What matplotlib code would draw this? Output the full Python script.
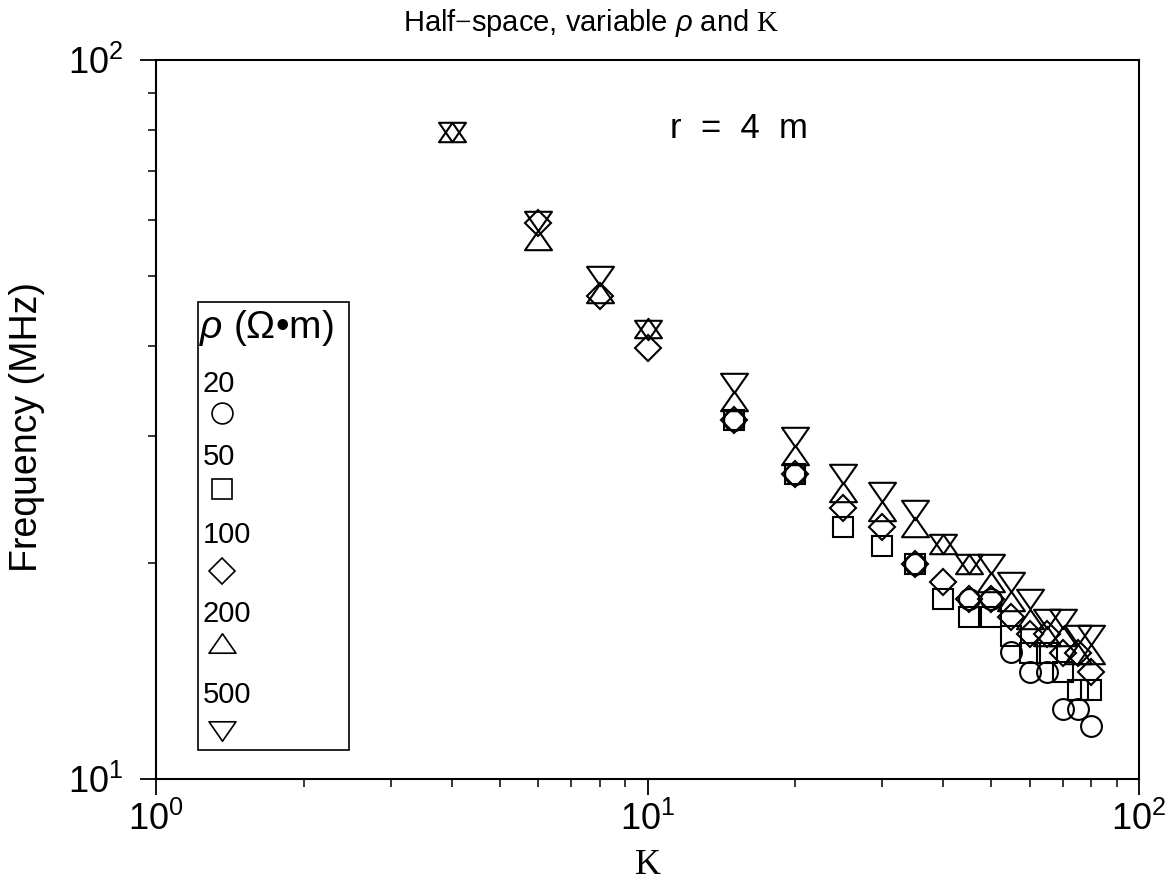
import numpy as np
import matplotlib
matplotlib.use("Agg")
import matplotlib.pyplot as plt
from matplotlib.path import Path
from matplotlib.patches import Rectangle
from matplotlib.ticker import NullFormatter

nan = np.nan

# K values (x axis)
K = [4, 6, 8, 10, 15, 20, 25, 30, 35, 40, 45, 50, 55, 60, 65, 70, 75, 80]

# frequency (MHz) for each resistivity
freq_20 = [nan, nan, nan, nan, 31.6, 26.6, nan, nan, 19.9, nan,
           17.8, 17.8, 15.0, 14.1, 14.1, 12.5, 12.5, 11.85]
freq_50 = [nan, nan, nan, nan, 31.6, 26.6, 22.4, 21.1, 19.9, 17.8,
           16.8, 16.8, 15.8, 14.95, 14.95, 14.1, 13.3, 13.3]
freq_100 = [nan, 59.4, 47.0, 39.8, 31.6, 26.6, 23.8, 22.4, 19.9, 18.8,
            17.8, 17.8, 16.8, 15.9, 15.9, 14.95, 14.95, 14.1]
freq_200 = [79.3, 56.2, 47.4, 42.4, 33.5, 28.2, 25.1, 23.6, 22.4, 21.2,
            19.9, 18.8, 17.7, 16.7, 15.8, 15.8, 14.9, 14.9]
freq_500 = [79.3, 59.8, 50.0, 42.1, 35.5, 29.9, 26.6, 25.1, 23.7, 21.2,
            19.9, 19.9, 18.8, 17.8, 16.7, 16.7, 15.85, 15.85]

rho_labels = ["20", "50", "100", "200", "500"]

plt.rcParams["font.family"] = ["Liberation Sans", "DejaVu Sans"]
plt.rcParams["mathtext.fontset"] = "custom"
plt.rcParams["mathtext.rm"] = "Liberation Serif"
plt.rcParams["mathtext.it"] = "Liberation Sans:italic"

# wide, flat triangles like the original plot
tri_up = Path([(0, 0.72), (-1, -0.72), (1, -0.72), (0, 0.72)],
              [Path.MOVETO, Path.LINETO, Path.LINETO, Path.CLOSEPOLY])
tri_down = Path([(0, -0.72), (-1, 0.72), (1, 0.72), (0, -0.72)],
                [Path.MOVETO, Path.LINETO, Path.LINETO, Path.CLOSEPOLY])

styles = [("o", 15), ("s", 14.4), ("D", 13.2), (tri_up, 19.4), (tri_down, 19.4)]
series = [freq_20, freq_50, freq_100, freq_200, freq_500]

fig = plt.figure(figsize=(11.75, 8.88), dpi=100)
ax = fig.add_axes([156 / 1175, 1 - 779 / 888, 983 / 1175, 719 / 888])

for freq, (mk, ms) in zip(series, styles):
    ax.plot(K, freq, linestyle="none", marker=mk, markersize=ms,
            markerfacecolor="none", markeredgecolor="black", markeredgewidth=1.5)

ax.set_xscale("log")
ax.set_yscale("log")
ax.set_xlim(1, 100)
ax.set_ylim(10, 100)
ax.xaxis.set_minor_formatter(NullFormatter())
ax.yaxis.set_minor_formatter(NullFormatter())

for s in ax.spines.values():
    s.set_linewidth(1.5)
ax.tick_params(which="major", direction="out", length=11.5, width=1.3,
               labelsize=26, pad=5, top=False, right=False)
ax.tick_params(which="minor", direction="out", length=5.8, width=1.1,
               top=False, right=False)
ax.tick_params(axis="y", which="major", pad=12)

ax.set_xlabel("K", fontsize=26, family=["Liberation Serif", "DejaVu Serif"])
ax.xaxis.set_label_coords(0.5, -0.097)
ax.set_ylabel("Frequency (MHz)", fontsize=27)
ax.yaxis.set_label_coords(-0.113, 0.49)

fig.text(591 / 1175, 1 - 23 / 888, r"Half$-$space, variable $\rho$ and $\mathrm{K}$",
         ha="center", va="center", fontsize=21)

ax.text(0.523, 0.905, "r  =  4  m", transform=ax.transAxes, fontsize=25,
        ha="left", va="center")

# hand-made legend box with label above each symbol
ax.add_patch(Rectangle((0.0424, 0.0403), 0.1539, 0.6231, transform=ax.transAxes,
                       fill=False, edgecolor="black", linewidth=1.2))
ax.text(0.0437, 0.6273, r"$\rho$ (Ω•m)", transform=ax.transAxes, fontsize=28,
        ha="left", va="center")
label_y = [0.5494, 0.4478, 0.3393, 0.2295, 0.1168]
marker_y = [0.509, 0.4033, 0.2893, 0.1892, 0.0668]
for lab, ly, my, (mk, ms) in zip(rho_labels, label_y, marker_y, styles):
    ax.text(0.0478, ly, lab, transform=ax.transAxes, fontsize=21,
            ha="left", va="center")
    ax.plot([0.0671], [my], transform=ax.transAxes, linestyle="none",
            marker=mk, markersize=ms, markerfacecolor="none",
            markeredgecolor="black", markeredgewidth=1.2, clip_on=False)

fig.savefig("out.png", dpi=100)
